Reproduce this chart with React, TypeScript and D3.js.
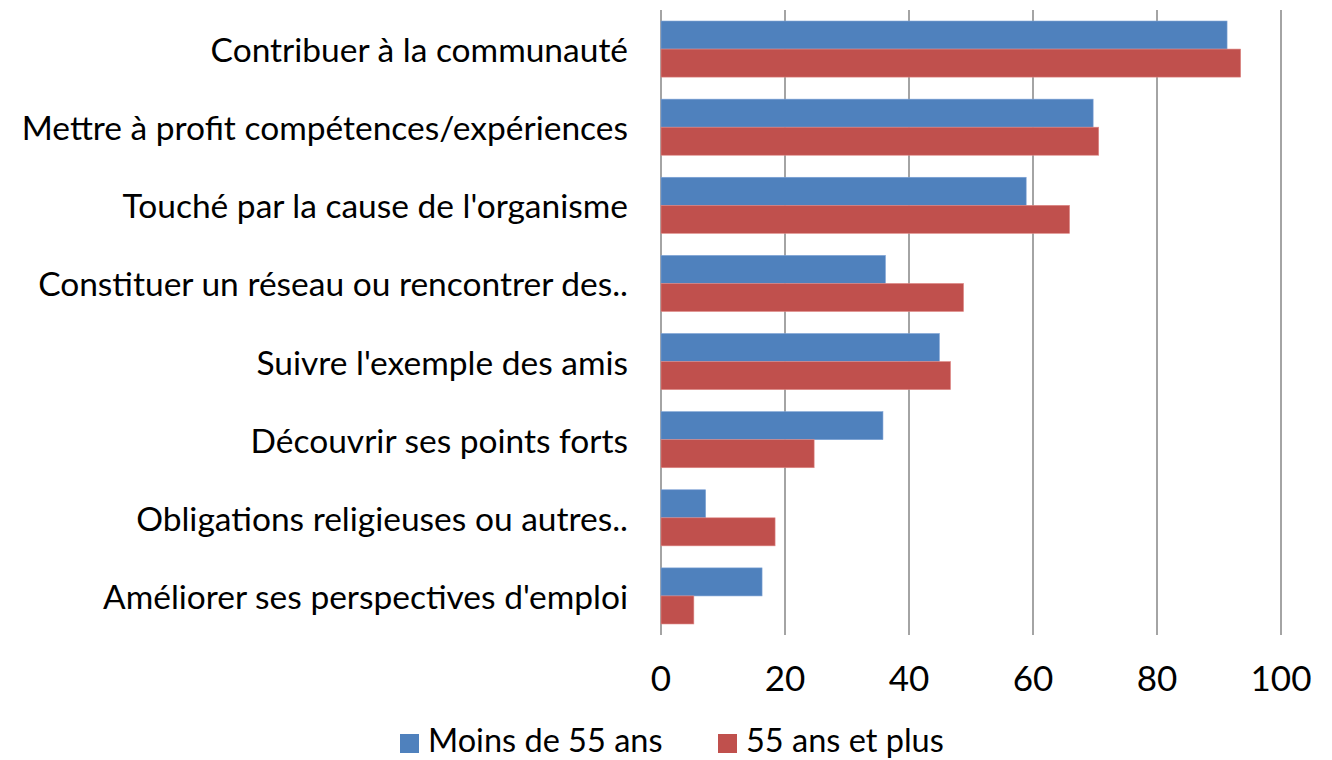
import React from "react";
import * as d3 from "d3";

const categories = [
  "Contribuer à la communauté",
  "Mettre à profit compétences/expériences",
  "Touché par la cause de l'organisme",
  "Constituer un réseau ou rencontrer des..",
  "Suivre l'exemple des amis",
  "Découvrir ses points forts",
  "Obligations religieuses ou autres..",
  "Améliorer ses perspectives d'emploi",
];
const moins55 = [91.3, 69.7, 58.9, 36.2, 44.9, 35.8, 7.2, 16.3];
const plus55 = [93.5, 70.6, 65.9, 48.8, 46.7, 24.7, 18.4, 5.3];
const seriesNames = ["Moins de 55 ans", "55 ans et plus"];
const seriesColors = ["#4F81BD", "#C0504D"];
const xTicks = [0, 20, 40, 60, 80, 100];

const W = 1332;
const H = 760;
const FONT = "Lato, 'Open Sans', sans-serif";

export default function App() {
  const left = 661;
  const right = 1281;
  const top = 10;
  const bottom = 635;
  const x = d3.scaleLinear().domain([0, 100]).range([left, right]);
  const y = d3.scaleBand<string>().domain(categories).range([top, bottom]).paddingInner(0.282).paddingOuter(0.141);
  const sub = d3.scaleBand<number>().domain([0, 1]).range([0, y.bandwidth()]);
  const series = [moins55, plus55];

  return (
    <svg width={W} height={H} style={{ position: "absolute", left: 0, top: 0 }} fontFamily={FONT}>
      <rect width={W} height={H} fill="#fff" />
      {xTicks.map((t) => (
        <line key={"g" + t} x1={x(t)} x2={x(t)} y1={top} y2={bottom} stroke="#868686" strokeWidth={1.5} />
      ))}
      {categories.map((c, i) => (
        <g key={c}>
          {series.map((s, k) => (
            <rect
              key={k}
              x={x(0)}
              y={(y(c) as number) + (sub(k) as number)}
              width={x(s[i]) - x(0)}
              height={sub.bandwidth()}
              fill={seriesColors[k]}
              stroke={k === 0 ? "#7FA3D6" : "#E08A88"}
              strokeWidth={0.6}
            />
          ))}
          <text
            x={628}
            y={(y(c) as number) + y.bandwidth() / 2}
            textAnchor="end"
            dominantBaseline="central"
            fontSize={33.5}
            fill="#000"
          >
            {c}
          </text>
        </g>
      ))}
      {xTicks.map((t) => (
        <text key={"t" + t} x={x(t)} y={677} textAnchor="middle" dominantBaseline="central" fontSize={35} fill="#000">
          {t}
        </text>
      ))}
      {seriesNames.map((n, k) => {
        const lx = k === 0 ? 400 : 718;
        return (
          <g key={n}>
            <rect x={lx} y={734} width={19} height={19} fill={seriesColors[k]} />
            <text x={lx + 28} y={739} dominantBaseline="central" fontSize={32.5} fill="#000">
              {n}
            </text>
          </g>
        );
      })}
    </svg>
  );
}
